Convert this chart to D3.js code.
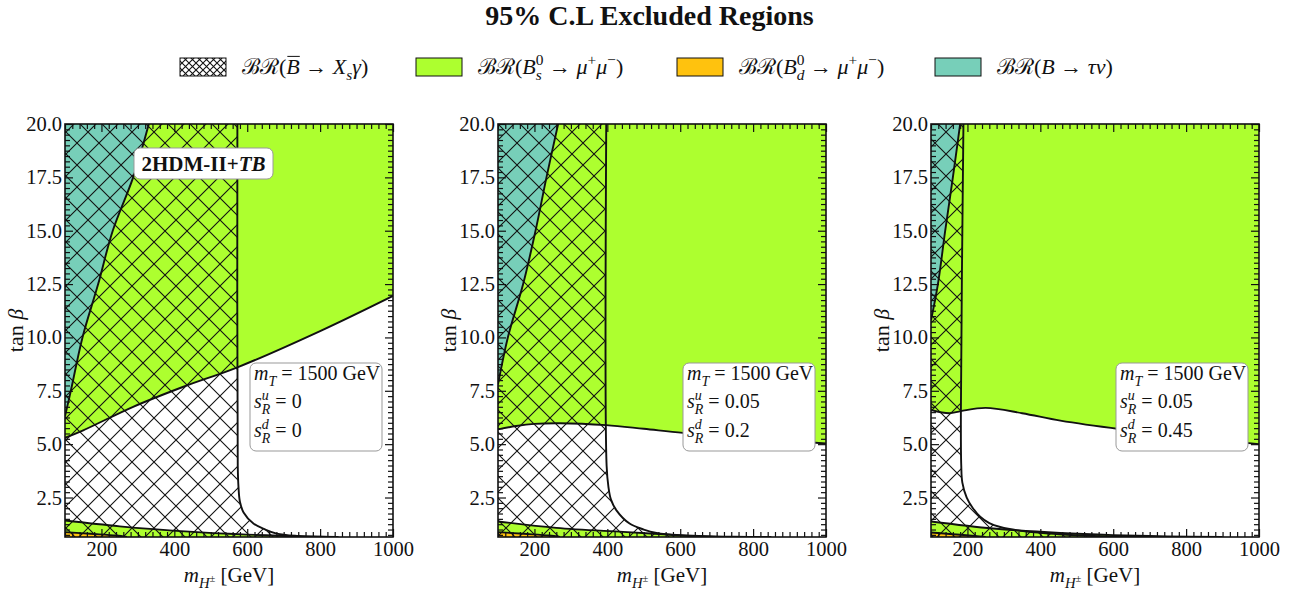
<!DOCTYPE html>
<html>
<head>
<meta charset="utf-8">
<title>95% C.L Excluded Regions</title>
<script src="https://cdn.jsdelivr.net/npm/d3@7"></script>
<style>
  body { margin: 0; background: #fff; }
  text { font-family: "Liberation Serif", "DejaVu Serif", serif; fill: #111; white-space: pre; }
</style>
</head>
<body>
<script>
// ---- data ----
const xDomain = [100, 1000];
const yDomain = [0.65, 20];
const xMajor = [200, 400, 600, 800, 1000];
const yMajor = [2.5, 5, 7.5, 10, 12.5, 15, 17.5, 20];

const mT = ["1500", "1500", "1500"];
const sRu = ["0", "0.05", "0.05"];
const sRd = ["0", "0.2", "0.45"];

// B -> tau nu boundary (teal is to the left/above)
const tau1 = [[100, 6.3], [116, 7.5], [148, 10], [191, 12.5], [231, 15], [287, 17.5], [330, 20]];
const tau2 = [[100, 7.8], [127, 10], [169, 12.5], [203, 15], [233, 17.5], [265, 20]];
const tau3 = [[100, 10.8], [119, 12.5], [139, 15], [160, 17.5], [180, 20]];

// Bs -> mu mu upper boundary (green above)
const bs1 = [[100, 5.3], [150, 5.65], [287, 6.75], [425, 7.69], [573, 8.6], [800, 10.3], [1000, 11.95]];
const bs2 = [[100, 5.69], [150, 5.85], [200, 5.95], [270, 5.98], [397, 5.89], [500, 5.72], [608, 5.53], [800, 5.28], [1000, 5.03]];
const bs3 = [[100, 6.6], [150, 6.45], [182, 6.55], [250, 6.7], [350, 6.45], [455, 6.1], [620, 5.7], [800, 5.35], [1000, 5.0]];

// Bs -> mu mu lower band (green below)
const low1 = [[100, 1.42], [250, 1.15], [452, 0.89], [550, 0.8], [653, 0.73], [750, 0.68], [850, 0.65]];
const low2 = [[100, 1.38], [260, 1.08], [443, 0.89], [553, 0.78], [650, 0.7], [750, 0.66], [850, 0.65]];
const low3 = [[100, 1.38], [271, 1.05], [455, 0.84], [600, 0.74], [750, 0.68], [900, 0.65]];

// Bd -> mu mu (orange, bottom left)
const bd1 = [[100, 0.88], [170, 0.8], [240, 0.72], [270, 0.65]];
const bd2 = [[100, 0.88], [170, 0.8], [240, 0.72], [270, 0.65]];
const bd3 = [[100, 0.86], [160, 0.78], [220, 0.7], [250, 0.65]];

// B -> Xs gamma boundary (hatched to the left)
const xs1 = [[573, 20], [574, 4], [576, 3.0], [580, 2.3], [590, 1.8], [617, 1.28], [650, 1.0], [681, 0.81], [740, 0.7], [800, 0.66], [850, 0.65]];
const xs2 = [[397, 20], [398, 4], [403, 3.0], [410, 2.4], [425, 1.9], [461, 1.28], [500, 1.0], [535, 0.84], [600, 0.72], [680, 0.66], [720, 0.65]];
const xs3 = [[189, 20], [182, 6.5], [183, 4.0], [186, 3.2], [198, 2.5], [215, 2.0], [235, 1.6], [260, 1.3], [290, 1.12], [363, 0.9], [450, 0.78], [546, 0.7], [650, 0.66], [750, 0.65]];

const panels = [
  {tau: tau1, bs: bs1, low: low1, bd: bd1, xs: xs1},
  {tau: tau2, bs: bs2, low: low2, bd: bd2, xs: xs2},
  {tau: tau3, bs: bs3, low: low3, bd: bd3, xs: xs3}
];

const legendItems = ["xs", "bs", "bd", "tau"];

// ---- layout ----
const W = 1299, H = 593;
const panelLeft = [65, 498, 931], pw = 328, plotTop = 124, ph = 413;
const colTeal = "#77cfb9", colGreen = "#adff2f", colOrange = "#ffc20e";
const serif = '"Liberation Serif", "DejaVu Serif", serif';

const svg = d3.select("body").append("svg").attr("width", W).attr("height", H);
const defs = svg.append("defs");

function hatch(id, s) {
  const p = defs.append("pattern").attr("id", id).attr("patternUnits", "userSpaceOnUse")
    .attr("width", s).attr("height", s);
  p.append("path").attr("d", `M${-1},${-1}L${s + 1},${s + 1}M${-1},${s + 1}L${s + 1},${-1}`)
    .attr("stroke", "#111").attr("stroke-width", 1.1).attr("fill", "none");
}
hatch("hatch", 22);
hatch("hatchS", 7);

// rich text: segments with italic / bold / sub / sup / stacking
function rich(parent, segs, size) {
  const g = parent.append("g");
  let cx = 0, stackX = null, stackW = 0;
  segs.forEach(s => {
    let fs = size, dy = 0;
    if (s.sub) { fs = size * 0.7; dy = size * 0.28; }
    if (s.sup) { fs = size * 0.7; dy = -size * 0.4; }
    if (s.fs) fs = size * s.fs;
    if (s.dy !== undefined) dy = size * s.dy;
    const t = g.append("text").attr("x", cx).attr("y", dy).attr("font-size", fs)
      .attr("font-style", s.i ? "italic" : "normal")
      .attr("font-weight", s.b ? "bold" : "normal")
      .text(s.t);
    const w = t.node().getComputedTextLength();
    if (s.over) g.append("line").attr("x1", cx + 1).attr("x2", cx + w)
      .attr("y1", -size * 0.8).attr("y2", -size * 0.8).attr("stroke", "#111").attr("stroke-width", 1);
    if (s.stack) { stackX = cx; stackW = w; }
    else if (stackX !== null) { cx = stackX + Math.max(w, stackW); stackX = null; }
    else cx += w;
  });
  return {g: g, w: cx};
}

// ---- title ----
svg.append("text").attr("x", 649.5).attr("y", 25).attr("text-anchor", "middle")
  .attr("font-size", 28).attr("font-weight", "bold").text("95% C.L Excluded Regions");

// ---- legend ----
const legendLabels = {
  xs: [{t: "ℬℛ("}, {t: "B", i: 1, over: 1}, {t: " → "}, {t: "X", i: 1}, {t: "s", i: 1, sub: 1}, {t: "γ", i: 1}, {t: ")"}],
  bs: [{t: "ℬℛ("}, {t: "B", i: 1}, {t: "0", sup: 1, stack: 1}, {t: "s", i: 1, sub: 1}, {t: " → "}, {t: "μ", i: 1}, {t: "+", sup: 1}, {t: "μ", i: 1}, {t: "−", sup: 1}, {t: ")"}],
  bd: [{t: "ℬℛ("}, {t: "B", i: 1}, {t: "0", sup: 1, stack: 1}, {t: "d", i: 1, sub: 1}, {t: " → "}, {t: "μ", i: 1}, {t: "+", sup: 1}, {t: "μ", i: 1}, {t: "−", sup: 1}, {t: ")"}],
  tau: [{t: "ℬℛ("}, {t: "B", i: 1}, {t: " → "}, {t: "τν", i: 1}, {t: ")"}]
};
const legendFill = {xs: "url(#hatchS)", bs: colGreen, bd: colOrange, tau: colTeal};
const legendX = [180, 416, 677, 935];
legendItems.forEach((k, i) => {
  svg.append("rect").attr("x", legendX[i]).attr("y", 58).attr("width", 46).attr("height", 18)
    .attr("fill", k === "xs" ? "#fff" : legendFill[k]).attr("stroke", "#111").attr("stroke-width", 1);
  if (k === "xs") svg.append("rect").attr("x", legendX[i]).attr("y", 58).attr("width", 46).attr("height", 18)
    .attr("fill", "url(#hatchS)");
  const r = rich(svg, legendLabels[k], 22);
  r.g.attr("transform", `translate(${legendX[i] + 62},74)`);
});

// ---- panels ----
panels.forEach((P, pi) => {
  const x0 = panelLeft[pi];
  const x = d3.scaleLinear().domain(xDomain).range([x0, x0 + pw]);
  const y = d3.scaleLinear().domain(yDomain).range([plotTop + ph, plotTop]);
  const line = d3.line().x(d => x(d[0])).y(d => y(d[1])).curve(d3.curveCatmullRom.alpha(0.5));
  const pt = d => `${x(d[0])},${y(d[1])}`;
  // polygon: straight pre points, smooth curve, straight post points
  const region = (pre, curve, post) => {
    let s = pre.map((d, i) => (i ? "L" : "M") + pt(d)).join("");
    const c = line(curve);
    s += pre.length ? "L" + c.slice(1) : c;
    s += post.map(d => "L" + pt(d)).join("") + "Z";
    return s;
  };
  const ymin = yDomain[0], ymax = yDomain[1], xmin = xDomain[0], xmax = xDomain[1];

  defs.append("clipPath").attr("id", "clip" + pi).append("rect")
    .attr("x", x0).attr("y", plotTop).attr("width", pw).attr("height", ph);
  const g = svg.append("g").attr("clip-path", `url(#clip${pi})`);

  g.append("path").attr("d", region([], P.bs, [[xmax, ymax], [xmin, ymax]])).attr("fill", colGreen);
  g.append("path").attr("d", region([[xmin, ymax]], P.tau, [])).attr("fill", colTeal);
  g.append("path").attr("d", region([[xmin, ymin]], P.low, [])).attr("fill", colGreen);
  g.append("path").attr("d", region([[xmin, ymin]], P.bd, [])).attr("fill", colOrange);
  g.append("path").attr("d", region([], P.xs, [[xmin, ymin], [xmin, ymax]])).attr("fill", "url(#hatch)");

  [P.tau, P.bs, P.low, P.bd, P.xs].forEach(c => {
    g.append("path").attr("d", line(c)).attr("fill", "none").attr("stroke", "#111").attr("stroke-width", 1.9);
  });

  // axes: inward ticks on all sides
  const xMinor = d3.range(100, 1001, 20).filter(v => xMajor.indexOf(v) < 0);
  const yMinor = d3.range(0.75, 20.001, 0.25).filter(v => yMajor.indexOf(+v.toFixed(2)) < 0);
  const axes = [
    [d3.axisBottom(x).tickValues(xMajor).tickSize(-8).tickPadding(4).tickFormat(d3.format("d")), `translate(0,${plotTop + ph})`],
    [d3.axisBottom(x).tickValues(xMinor).tickSize(-5).tickFormat(""), `translate(0,${plotTop + ph})`],
    [d3.axisTop(x).tickValues(xMajor).tickSize(-8).tickFormat(""), `translate(0,${plotTop})`],
    [d3.axisTop(x).tickValues(xMinor).tickSize(-5).tickFormat(""), `translate(0,${plotTop})`],
    [d3.axisLeft(y).tickValues(yMajor).tickSize(-8).tickPadding(3).tickFormat(d3.format(".1f")), `translate(${x0},0)`],
    [d3.axisLeft(y).tickValues(yMinor).tickSize(-5).tickFormat(""), `translate(${x0},0)`],
    [d3.axisRight(y).tickValues(yMajor).tickSize(-8).tickFormat(""), `translate(${x0 + pw},0)`],
    [d3.axisRight(y).tickValues(yMinor).tickSize(-5).tickFormat(""), `translate(${x0 + pw},0)`]
  ];
  axes.forEach(a => {
    const ag = svg.append("g").attr("transform", a[1]).call(a[0]);
    ag.attr("font-family", null).attr("font-size", null);
    ag.select(".domain").remove();
    ag.selectAll("line").attr("stroke", "#111").attr("stroke-width", 1.2);
    ag.selectAll("text").style("font-family", serif).style("font-size", "20.5px").attr("fill", "#111");
  });

  svg.append("rect").attr("x", x0).attr("y", plotTop).attr("width", pw).attr("height", ph)
    .attr("fill", "none").attr("stroke", "#111").attr("stroke-width", 1.6);

  // axis labels
  const xl = rich(svg, [{t: "m", i: 1}, {t: "H", i: 1, sub: 1}, {t: "±", fs: 0.5, dy: 0.02}, {t: " [GeV]"}], 21);
  xl.g.attr("transform", `translate(${x0 + pw / 2 - xl.w / 2},582)`);
  const yl = rich(svg, [{t: "tan "}, {t: "β", i: 1}], 22);
  yl.g.attr("transform", `translate(${x0 - 42},${plotTop + ph / 2 + yl.w / 2}) rotate(-90)`);

  // parameter box
  svg.append("rect").attr("x", x0 + 185).attr("y", 363).attr("width", 132).attr("height", 88).attr("rx", 6)
    .attr("fill", "#fff").attr("stroke", "#999").attr("stroke-width", 1);
  const l1 = rich(svg, [{t: "m", i: 1}, {t: "T", i: 1, sub: 1}, {t: " = " + mT[pi] + " GeV"}], 20);
  l1.g.attr("transform", `translate(${x0 + 189},380)`);
  const l2 = rich(svg, [{t: "s", i: 1}, {t: "u", i: 1, sup: 1, stack: 1}, {t: "R", i: 1, sub: 1}, {t: " = " + sRu[pi]}], 20);
  l2.g.attr("transform", `translate(${x0 + 189},408)`);
  const l3 = rich(svg, [{t: "s", i: 1}, {t: "d", i: 1, sup: 1, stack: 1}, {t: "R", i: 1, sub: 1}, {t: " = " + sRd[pi]}], 20);
  l3.g.attr("transform", `translate(${x0 + 189},437)`);

  if (pi === 0) {
    svg.append("rect").attr("x", 134).attr("y", 148).attr("width", 139).attr("height", 31).attr("rx", 6)
      .attr("fill", "#fff").attr("stroke", "#999").attr("stroke-width", 1);
    const m = rich(svg, [{t: "2HDM-II+", b: 1}, {t: "TB", b: 1, i: 1}], 21);
    m.g.attr("transform", `translate(${203.5 - m.w / 2},171)`);
  }
});
</script>
</body>
</html>
